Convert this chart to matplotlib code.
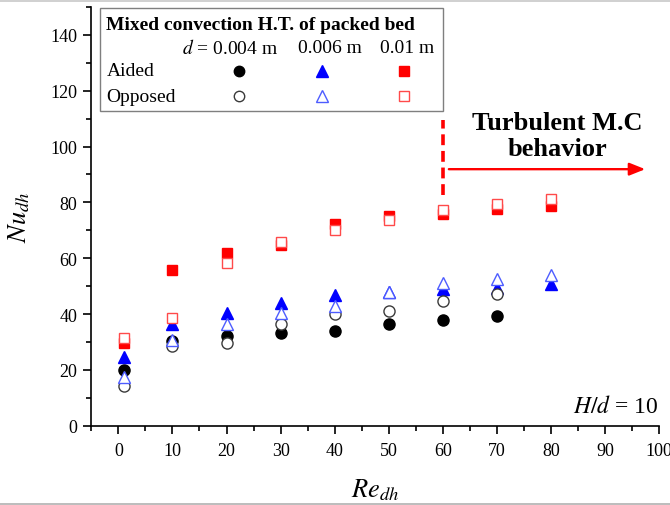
import matplotlib
matplotlib.use("Agg")
import matplotlib.pyplot as plt
from matplotlib.lines import Line2D
from matplotlib.patches import Rectangle
from matplotlib.ticker import MultipleLocator

plt.rcParams['font.family'] = ['Liberation Serif', 'DejaVu Serif']
plt.rcParams['mathtext.fontset'] = 'stix'

# Reynolds numbers for each measurement column
re_all = [1, 10, 20, 30, 40, 50, 60, 70, 80]
re_small = [1, 10, 20, 30, 40, 50, 60, 70]

# d = 0.004 m
nu_004_aided = [20.0, 30.3, 32.0, 33.1, 34.0, 36.4, 38.0, 39.2]
nu_004_opposed = [14.4, 28.5, 29.6, 36.4, 40.0, 41.0, 44.8, 47.1]
# d = 0.006 m
nu_006_aided = [24.5, 36.4, 40.3, 44.0, 46.9, 47.8, 48.9, 49.5, 50.7]
nu_006_opposed = [17.4, 30.8, 36.4, 40.3, 42.8, 48.0, 51.3, 52.4, 54.0]
# d = 0.01 m
nu_01_aided = [29.8, 55.9, 61.8, 64.6, 72.2, 75.0, 76.0, 77.5, 78.8]
nu_01_opposed = [31.4, 38.5, 58.2, 65.8, 70.0, 73.6, 77.3, 79.3, 81.3]

W, H = 670, 506
fig = plt.figure(figsize=(W / 100, H / 100), dpi=100)
ax = fig.add_axes([91.3 / W, 1 - 426.7 / H, 568 / W, 418.7 / H])

ms_c, ms_t, ms_s = 8, 9, 7.2
# filled (aided) series
ax.plot(re_small, nu_004_aided, 'o', ms=ms_c, color='black', zorder=3)
ax.plot(re_all, nu_006_aided, '^', ms=ms_t, color='#0000ff', zorder=3)
ax.plot(re_all, nu_01_aided, 's', ms=ms_s, color='#ff0000', zorder=3)
# open (opposed) series
ax.plot(re_small, nu_004_opposed, 'o', ms=ms_c, mfc='white', mec='#3a3a3a', mew=1.0, zorder=4)
ax.plot(re_all, nu_006_opposed, '^', ms=ms_t, mfc='white', mec='#4d5cff', mew=1.0, zorder=4)
ax.plot(re_all, nu_01_opposed, 's', ms=ms_s, mfc='white', mec='#ff4a4a', mew=1.0, zorder=4)

ax.set_xlim(-5, 100)
ax.set_ylim(0, 150)
ax.xaxis.set_major_locator(MultipleLocator(10))
ax.xaxis.set_minor_locator(MultipleLocator(5))
ax.yaxis.set_minor_locator(MultipleLocator(10))
ax.set_yticks(range(0, 141, 20))
ax.tick_params(which='major', direction='out', length=6, width=1.2, labelsize=13, colors='black')
ax.tick_params(axis='x', which='major', pad=5.5)
ax.tick_params(axis='y', which='major', pad=4)
ax.tick_params(which='minor', direction='out', length=3.5, width=1.2)
for s in ('top', 'right'):
    ax.spines[s].set_visible(False)
for s in ('left', 'bottom'):
    ax.spines[s].set_linewidth(1.2)

ax.set_xlabel(r'$Re_{dh}$', fontsize=19, labelpad=13)
ax.set_ylabel(r'$Nu_{dh}$', fontsize=19, labelpad=13)

# Transition marker and annotation
ax.plot([60, 60], [82.6, 109.5], color='#ff0000', lw=2.6, ls=(0, (3, 1.6)), zorder=5)
ax.annotate('', xy=(97.4, 91.9), xytext=(61.1, 91.9),
            arrowprops=dict(arrowstyle='-|>,head_length=0.95,head_width=0.38',
                            color='#ff0000', lw=1.7, shrinkA=0, shrinkB=0))
ax.text(81.2, 104.0, 'Turbulent M.C\nbehavior', ha='center', va='center',
        fontsize=19, fontweight='bold', linespacing=1.15)
ax.text(99.8, 7.2, r'$H/d$ = 10', ha='right', va='center', fontsize=17)

# Legend table drawn in figure pixel coordinates
def fx(x):
    return x / W

def fy(y):
    return 1 - y / H

fig.add_artist(Rectangle((fx(100), fy(111.7)), fx(343), 103 / H, fill=True,
                         facecolor='white', edgecolor='#7f7f7f', lw=1.0,
                         transform=fig.transFigure, zorder=10))
fig.text(fx(106.5), fy(25), 'Mixed convection H.T. of packed bed', fontsize=14,
         fontweight='bold', va='center', ha='left', zorder=11)
fig.text(fx(230.5), fy(48.5), r'$d$ = 0.004 m', fontsize=14, va='center', ha='center', zorder=11)
fig.text(fx(330), fy(48.5), '0.006 m', fontsize=14, va='center', ha='center', zorder=11)
fig.text(fx(407.5), fy(48.5), '0.01 m', fontsize=14, va='center', ha='center', zorder=11)
fig.text(fx(106.5), fy(72), 'Aided', fontsize=14, va='center', ha='left', zorder=11)
fig.text(fx(106.5), fy(97), 'Opposed', fontsize=14, va='center', ha='left', zorder=11)

leg_x = [239, 322, 404]
filled = [dict(marker='o', ms=ms_c - 0.5, color='black'),
          dict(marker='^', ms=ms_t - 0.5, color='#0000ff'),
          dict(marker='s', ms=ms_s - 0.7, color='#ff0000')]
opened = [dict(marker='o', ms=ms_c - 0.5, mfc='white', mec='#3a3a3a', mew=1.0),
          dict(marker='^', ms=ms_t - 0.5, mfc='white', mec='#4d5cff', mew=1.0),
          dict(marker='s', ms=ms_s - 0.7, mfc='white', mec='#ff4a4a', mew=1.0)]
for x, f, o in zip(leg_x, filled, opened):
    fig.add_artist(Line2D([fx(x)], [fy(72)], ls='none', transform=fig.transFigure, zorder=11, **f))
    fig.add_artist(Line2D([fx(x)], [fy(97)], ls='none', transform=fig.transFigure, zorder=11, **o))

# page edges
fig.add_artist(Line2D([0, 1], [fy(1.5), fy(1.5)], color='#c8c8c8', lw=1.2, transform=fig.transFigure))
fig.add_artist(Line2D([0, 1], [fy(504.5), fy(504.5)], color='#b0b0b0', lw=1.2, transform=fig.transFigure))

fig.savefig('out.png', dpi=100)
